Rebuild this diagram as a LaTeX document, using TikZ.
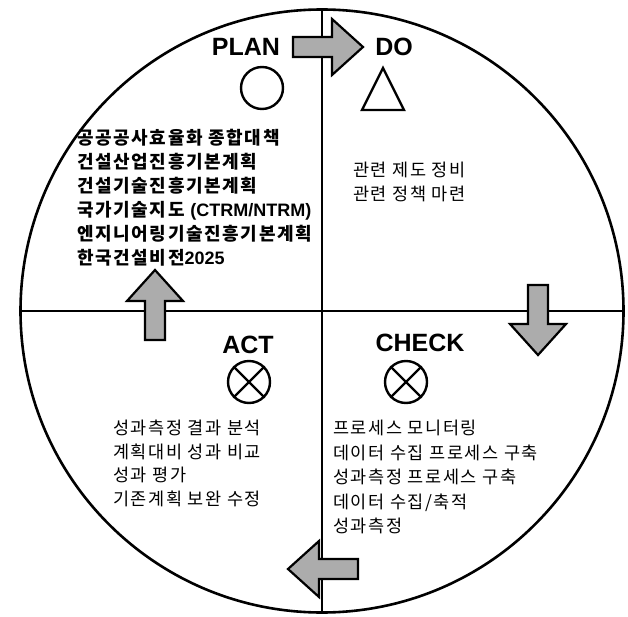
\documentclass[tikz,border=0pt]{standalone}
\usepackage{fontspec}
\usetikzlibrary{positioning}
\newfontfamily\krf[LetterSpace=9]{Noto Sans CJK KR}
\newfontfamily\hdf{Liberation Sans}
\tikzset{wire/.style={line width=1.7pt},
 sym/.style={draw,line width=2.4pt},
 ring/.style={sym,circle,inner sep=0pt,minimum size=42pt},
 hd/.style={font=\hdf\bfseries\fontsize{25}{25}\selectfont,inner sep=0pt},
 txt/.style={font=\krf\fontsize{17.5}{23.5}\selectfont,align=left,inner sep=0pt,anchor=north west},
 btxt/.style={txt,font=\krf\bfseries\fontsize{18}{24}\selectfont},
 blk/.pic={\draw[line width=2.2pt,fill=gray!65,line join=miter]
   (0,-10)--(39,-10)--(39,-28)--(70,0)--(39,28)--(39,10)--(0,10)--cycle;}}
\begin{document}
\begin{tikzpicture}[x=1pt,y=-1pt]
\useasboundingbox (0,0) rectangle (628,617);
% outer wheel and quarters
\node[circle,draw,line width=2.6pt,minimum size=603pt,inner sep=0pt] (rim) at (322,311) {};
\draw[wire] (rim.north)--(rim.south);\draw[wire] (rim.west)--(rim.east);
% cycle arrows
\pic at (293,47) {blk};
\pic[rotate=-90] at (538,285) {blk};
\pic[rotate=180] at (358,569) {blk};
\pic[rotate=90] at (155,340) {blk};
% stage names and symbols
\node[hd] (plan) at (246,47) {PLAN};\node[hd] (do) at (394,47) {DO};
\node[hd] (act) at (248,345) {ACT};\node[hd] (check) at (420,343) {CHECK};
\node[ring] (o) at (262,88) {};
\draw[sym,line join=miter] (383,68)--(404,110)--(362,110)--cycle;
\node[ring] (xa) at (249,382) {};\node[ring] (xc) at (406,382) {};
\draw[sym] (xa.north west)--(xa.south east) (xa.north east)--(xa.south west);
\draw[sym] (xc.north west)--(xc.south east) (xc.north east)--(xc.south west);
% texts
\node[btxt] (plantxt) at (77,129) {공공공사효율화 종합대책\\건설산업진흥기본계획\\건설기술진흥기본계획\\국가기술지도 {\hdf\bfseries(CTRM/NTRM)}\\엔지니어링기술진흥기본계획\\한국건설비전{\hdf\bfseries2025}};
\node[txt] (dotxt) at (353,162) {관련 제도 정비\\관련 정책 마련};
\node[txt] (acttxt) at (113,420) {성과측정 결과 분석\\계획대비 성과 비교\\성과 평가\\기존계획 보완 수정};
\node[txt,font=\krf\fontsize{17.5}{24.5}\selectfont] (chktxt) at (333,420) {프로세스 모니터링\\데이터 수집 프로세스 구축\\성과측정 프로세스 구축\\데이터 수집/축적\\성과측정};
\end{tikzpicture}
\end{document}
